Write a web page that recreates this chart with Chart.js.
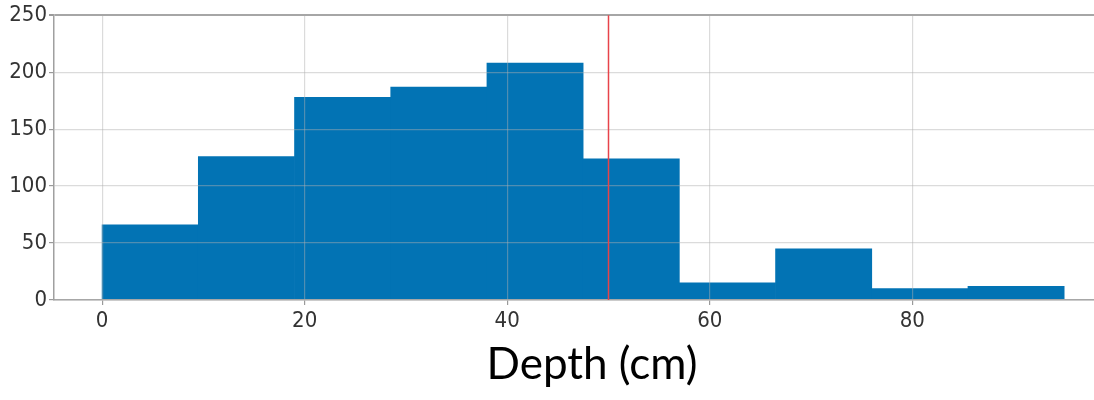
<!DOCTYPE html>
<html>
<head>
<meta charset="utf-8">
<title>Depth histogram</title>
<script src="https://cdn.jsdelivr.net/npm/chart.js@4/dist/chart.umd.min.js"></script>
<style>
  html, body { margin: 0; padding: 0; background: #ffffff; }
  #wrap { width: 1094px; height: 400px; overflow: hidden; position: relative; background: #ffffff; }
  #chart { display: block; width: 1130px; height: 400px; }
</style>
</head>
<body>
<div id="wrap"><canvas id="chart" width="1130" height="400"></canvas></div>
<script>
// Histogram bins (cm) and the number of samples in each bin
const binEdges = [0, 9.5, 19, 28.5, 38, 47.5, 57, 66.5, 76, 85.5, 95];
const binCounts = [66, 126, 178, 187, 208, 124, 15, 45, 10, 12];

// Axis ticks
const xTicks = [0, 20, 40, 60, 80];
const yTicks = [0, 50, 100, 150, 200, 250];

// Reference depth marked with a vertical line
const thresholdDepth = 50;

const axisTitle = 'Depth (cm)';

const barData = binCounts.map((c, i) => ({ x: (binEdges[i] + binEdges[i + 1]) / 2, y: c }));

const tickFont = { family: "'Liberation Sans Narrow', 'DejaVu Sans Condensed', 'DejaVu Sans', sans-serif", size: 22 };

const thresholdLine = {
  id: 'thresholdLine',
  afterDraw(chart) {
    const { ctx, chartArea, scales } = chart;
    const x = Math.round(scales.x.getPixelForValue(thresholdDepth)) + 0.5;
    ctx.save();
    ctx.strokeStyle = '#e8434a';
    ctx.lineWidth = 1.5;
    ctx.beginPath();
    ctx.moveTo(x, chartArea.top);
    ctx.lineTo(x, chartArea.bottom);
    ctx.stroke();
    ctx.restore();
  }
};

new Chart(document.getElementById('chart'), {
  type: 'bar',
  data: {
    datasets: [{
      data: barData,
      backgroundColor: '#0273b4',
      borderWidth: 0,
      barPercentage: 1,
      categoryPercentage: 1,
      grouped: false
    }]
  },
  options: {
    responsive: false,
    animation: false,
    layout: { padding: { top: 15, left: 0, right: 0, bottom: 0 } },
    plugins: { legend: { display: false }, tooltip: { enabled: false } },
    scales: {
      x: {
        type: 'linear',
        min: -4.75,
        max: 101.5,
        offset: false,
        afterBuildTicks(scale) { scale.ticks = xTicks.map(v => ({ value: v })); },
        afterFit(scale) { scale.height = 100; },
        ticks: { font: tickFont, color: '#333333', padding: 3, maxRotation: 0 },
        grid: {
          z: 1,
          offset: false,
          color: 'rgba(175,175,175,0.45)',
          lineWidth: 1.2,
          tickColor: '#9a9a9a',
          tickLength: 5
        },
        border: { display: true, color: '#a0a0a0', width: 1.5, z: 1 },
        title: {
          display: true,
          text: axisTitle,
          color: '#000000',
          font: { family: "Lato, 'Open Sans', sans-serif", size: 44 },
          padding: { top: 0, bottom: 9 }
        }
      },
      y: {
        min: 0,
        max: 250,
        afterBuildTicks(scale) { scale.ticks = yTicks.map(v => ({ value: v })); },
        afterFit(scale) { scale.width = 54; },
        ticks: { font: tickFont, color: '#333333', padding: 2 },
        grid: {
          z: 1,
          color: (ctx) => ctx.tick && ctx.tick.value === 250 ? '#a6a6a6' : 'rgba(175,175,175,0.45)',
          lineWidth: (ctx) => ctx.tick && ctx.tick.value === 250 ? 2 : 1.2,
          tickColor: '#9a9a9a',
          tickLength: 5
        },
        border: { display: true, color: '#a0a0a0', width: 1.5, z: 1 }
      }
    }
  },
  plugins: [thresholdLine]
});
</script>
</body>
</html>
